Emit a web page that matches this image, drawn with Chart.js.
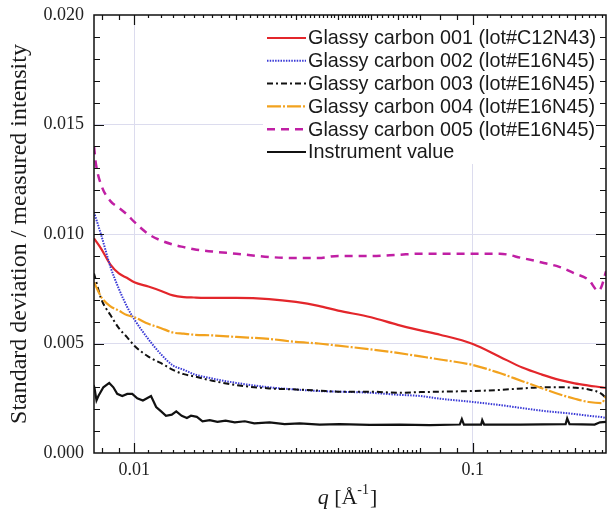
<!DOCTYPE html>
<html><head><meta charset="utf-8">
<script src="https://cdn.jsdelivr.net/npm/chart.js@4.4.1/dist/chart.umd.min.js"></script>
<style>html,body{margin:0;padding:0;background:#fff;}#wrap{width:612px;height:514px;}</style>
</head><body><div id="wrap"><canvas id="c" width="612" height="514"></canvas></div>
<script>
// ---------- data ----------
const seriesNames = [
  'Glassy carbon 001 (lot#C12N43)',
  'Glassy carbon 002 (lot#E16N45)',
  'Glassy carbon 003 (lot#E16N45)',
  'Glassy carbon 004 (lot#E16N45)',
  'Glassy carbon 005 (lot#E16N45)',
  'Instrument value'
];
const qGrid = [0.0076,0.008,0.0085,0.009,0.0095,0.01,0.011,0.012,0.013,0.014,0.015,0.017,0.02,0.025,0.03,0.035,0.04,0.05,0.06,0.07,0.08,0.1,0.12,0.14,0.16,0.18,0.2,0.22,0.24,0.2474];
const gc001 = [0.0098,0.0093,0.0086,0.0082,0.0080,0.0078,0.0076,0.0074,0.0072,0.00712,0.0071,0.00708,0.00708,0.00703,0.0069,0.00672,0.0065,0.0062,0.00585,0.0056,0.0054,0.00498,0.0044,0.0039,0.00358,0.00334,0.00318,0.00308,0.0030,0.00297];
const gc002 = [0.0110,0.0099,0.0085,0.0075,0.0067,0.0061,0.0052,0.0045,0.0040,0.0038,0.0036,0.0034,0.0032,0.0030,0.0029,0.00283,0.0028,0.00275,0.00266,0.0026,0.00248,0.00233,0.00219,0.00205,0.00193,0.00185,0.00178,0.0017,0.00164,0.0016];
const gc003 = [0.0082,0.0070,0.0063,0.0057,0.0053,0.0049,0.0044,0.0041,0.0038,0.0036,0.0035,0.0033,0.0031,0.00295,0.0029,0.00285,0.0028,0.0028,0.00275,0.00278,0.0028,0.00283,0.00288,0.00295,0.0030,0.0030,0.00298,0.0029,0.0027,0.0025];
const gc004 = [0.0078,0.0071,0.0067,0.0065,0.0063,0.0062,0.0059,0.0057,0.0055,0.00545,0.0054,0.00537,0.0053,0.00521,0.00507,0.0050,0.0049,0.00473,0.00457,0.00441,0.00427,0.00402,0.00365,0.00328,0.00296,0.00268,0.00248,0.00233,0.00228,0.0026];
const q005 = [0.0076,0.0077,0.008,0.0085,0.009,0.0095,0.01,0.011,0.012,0.013,0.014,0.015,0.017,0.02,0.025,0.03,0.035,0.04,0.05,0.06,0.07,0.08,0.1,0.12,0.14,0.16,0.18,0.2,0.22,0.235,0.24,0.2474];
const gc005 = [0.0140,0.0132,0.0122,0.0115,0.0112,0.0109,0.01055,0.0100,0.0097,0.00952,0.0094,0.0093,0.0092,0.0091,0.00895,0.0089,0.0089,0.0090,0.0090,0.00905,0.0091,0.0091,0.0091,0.0091,0.0089,0.0087,0.0085,0.0082,0.0079,0.0074,0.0076,0.0083];
const qInst = [0.00757,0.00762,0.00773,0.00783,0.0081,0.00843,0.00867,0.0089,0.00921,0.00953,0.00986,0.0102,0.0106,0.0109,0.0112,0.0116,0.012,0.0124,0.0129,0.0133,0.0138,0.0143,0.0147,0.0153,0.0159,0.0167,0.0176,0.0186,0.0198,0.0212,0.0226,0.0251,0.0278,0.0308,0.0353,0.0404,0.0496,0.0608,0.0746,0.0915,0.0928,0.0941,0.1058,0.1066,0.108,0.138,0.188,0.19,0.193,0.229,0.2375,0.2474];
const instrument = [0.0031,0.0030,0.0024,0.0026,0.0030,0.0032,0.0030,0.0027,0.0026,0.0027,0.0027,0.0025,0.0024,0.0025,0.0026,0.0021,0.0019,0.0017,0.00175,0.0019,0.0017,0.0016,0.0017,0.00165,0.00145,0.0015,0.00142,0.00148,0.0014,0.00145,0.00135,0.0014,0.00132,0.00135,0.0013,0.00132,0.00128,0.0013,0.00127,0.0013,0.00155,0.0013,0.0013,0.0015,0.0013,0.0013,0.00132,0.00158,0.00132,0.0013,0.0014,0.00142];

const xTickValues = [0.01, 0.1];
const xTickLabels = ['0.01', '0.1'];
const yMin = 0, yMax = 0.02, yStep = 0.005, yMinorStep = 0.001;
const xMin = 0.0076, xMax = 0.2474;
const yTitle = 'Standard deviation / measured intensity';
const xTitleParts = ['q', ' [Å', '-1', ']'];

// ---------- helpers ----------
const pts = (xs, ys) => xs.map((x, i) => ({x: x, y: ys[i]}));
function seq(a, b, s) { const out = []; for (let v = a; v <= b + 1e-9; v += s) out.push(+v.toFixed(4)); return out; }
const xMinorSmall = [].concat(seq(0.011, 0.019, 0.001), seq(0.021, 0.049, 0.001), seq(0.052, 0.068, 0.002), seq(0.11, 0.24, 0.01)).filter(v => ![0.2].includes(v));
const xMinorMed = [0.008, 0.009, 0.02, 0.03, 0.04, 0.05, 0.06, 0.07, 0.08, 0.09, 0.2];

const SERIF = '"Liberation Serif", "Times New Roman", serif';
const SANS = '"Liberation Sans", Arial, sans-serif';
const GRID = '#dcdcee';

const styles = [
  {color: '#e3262b', dash: [], width: 2.2},
  {color: '#3a3ad6', dash: [1.5, 1.2], width: 2},
  {color: '#111111', dash: [6, 3, 2, 3], width: 2},
  {color: '#f2a21e', dash: [14, 2, 2, 2], width: 2.2},
  {color: '#c01fa4', dash: [8, 6], width: 2.5},
  {color: '#111111', dash: [], width: 2.2}
];
const dataSets = [pts(qGrid, gc001), pts(qGrid, gc002), pts(qGrid, gc003), pts(qGrid, gc004), pts(q005, gc005), pts(qInst, instrument)];

const datasets = dataSets.map((d, i) => ({
  label: seriesNames[i],
  data: d,
  showLine: true,
  borderColor: styles[i].color,
  backgroundColor: styles[i].color,
  borderWidth: styles[i].width,
  borderDash: styles[i].dash,
  pointRadius: 0,
  fill: false,
  tension: i === 5 ? 0 : 0.35,
  cubicInterpolationMode: i === 5 ? 'default' : 'monotone',
  order: 6 - i
}));

// ---------- plugins ----------
const insideLegend = {
  id: 'insideLegend',
  afterDatasetsDraw(chart) {
    const ctx = chart.ctx, a = chart.chartArea;
    ctx.save();
    ctx.fillStyle = '#ffffff';
    ctx.fillRect(a.right - 343, a.top + 1, 342, 148);
    ctx.font = '19.8px ' + SANS;
    ctx.textBaseline = 'middle';
    ctx.textAlign = 'left';
    seriesNames.forEach((name, i) => {
      const y = a.top + 23 + i * 22.8;
      ctx.beginPath();
      ctx.strokeStyle = styles[i].color;
      ctx.lineWidth = styles[i].width;
      ctx.setLineDash(styles[i].dash);
      ctx.moveTo(a.right - 339, y);
      ctx.lineTo(a.right - 300, y);
      ctx.stroke();
      ctx.setLineDash([]);
      ctx.fillStyle = '#1a1a1a';
      ctx.fillText(name, a.right - 298, y + 1);
    });
    ctx.restore();
  }
};

const frameAndTicks = {
  id: 'frameAndTicks',
  afterDraw(chart) {
    const ctx = chart.ctx, a = chart.chartArea;
    const xs = chart.scales.x, ys = chart.scales.y;
    ctx.save();
    ctx.strokeStyle = '#111';
    ctx.lineWidth = 1.5;
    ctx.setLineDash([]);
    ctx.strokeRect(a.left, a.top, a.right - a.left, a.bottom - a.top);
    ctx.lineWidth = 1.2;
    ctx.beginPath();
    for (let i = 1; i < Math.round((yMax - yMin) / yMinorStep); i++) {
      const v = yMin + i * yMinorStep;
      const py = Math.round(ys.getPixelForValue(v)) + 0.5;
      const major = i % Math.round(yStep / yMinorStep) === 0;
      const L = major ? 10 : 6;
      ctx.moveTo(a.left, py); ctx.lineTo(a.left + L, py);
      ctx.moveTo(a.right, py); ctx.lineTo(a.right - L, py);
    }
    const xt = (vals, L) => vals.forEach(v => {
      if (v <= xMin || v >= xMax) return;
      const px = Math.round(xs.getPixelForValue(v)) + 0.5;
      ctx.moveTo(px, a.bottom); ctx.lineTo(px, a.bottom - L);
      ctx.moveTo(px, a.top); ctx.lineTo(px, a.top + L);
    });
    xt(xTickValues, 10);
    xt(xMinorMed, 5);
    xt(xMinorSmall, 3);
    ctx.stroke();

    const cx = (a.left + a.right) / 2 - 3, base = 504;
    const fonts = ['italic 22px ' + SERIF, '22px ' + SERIF, '14px ' + SERIF, '22px ' + SERIF];
    const offs = [0, 0, -10, 0];
    const widths = xTitleParts.map((t, i) => { ctx.font = fonts[i]; return ctx.measureText(t).width; });
    let x = cx - widths.reduce((p, c) => p + c, 0) / 2;
    ctx.fillStyle = '#1a1a1a';
    ctx.textBaseline = 'alphabetic';
    ctx.textAlign = 'left';
    xTitleParts.forEach((t, i) => {
      ctx.font = fonts[i];
      ctx.fillText(t, x, base + offs[i]);
      x += widths[i] + (i === 2 ? 1 : 0);
    });
    ctx.restore();
  }
};

// ---------- chart ----------
new Chart(document.getElementById('c'), {
  type: 'scatter',
  data: {datasets},
  options: {
    responsive: false,
    animation: false,
    devicePixelRatio: 1,
    layout: {padding: {left: 0, right: 6, top: 15, bottom: 0}},
    plugins: {legend: {display: false}, tooltip: {enabled: false}},
    scales: {
      x: {
        type: 'logarithmic',
        position: 'bottom',
        min: xMin, max: xMax,
        bounds: 'data',
        afterBuildTicks: s => { s.ticks = xTickValues.map(v => ({value: v, major: true})); },
        afterFit: s => { s.height = 61; s.paddingLeft = 0; s.paddingRight = 0; },
        ticks: {
          autoSkip: false, maxRotation: 0,
          padding: 6,
          color: '#222',
          font: {family: SERIF, size: 18},
          callback: (v) => { const k = xTickValues.findIndex(t => Math.abs(t - v) < 1e-9); return k >= 0 ? xTickLabels[k] : ''; }
        },
        grid: {color: GRID, lineWidth: 1, drawTicks: false},
        border: {display: false},
        title: {display: false}
      },
      y: {
        type: 'linear',
        min: yMin, max: yMax,
        afterFit: s => { s.width = 94; s.paddingTop = 0; s.paddingBottom = 0; },
        ticks: {
          stepSize: yStep,
          padding: 10,
          color: '#222',
          font: {family: SERIF, size: 18},
          callback: v => v.toFixed(3)
        },
        grid: {
          color: ctx => (ctx.tick && (ctx.tick.value <= yMin + 1e-9 || ctx.tick.value >= yMax - 1e-9)) ? 'rgba(0,0,0,0)' : GRID,
          lineWidth: 1, drawTicks: false
        },
        border: {display: false},
        title: {
          display: true, text: yTitle, color: '#1a1a1a',
          font: {family: SERIF, size: 24},
          padding: {top: 5, bottom: 0}
        }
      }
    }
  },
  plugins: [insideLegend, frameAndTicks]
});
</script>
</body></html>
